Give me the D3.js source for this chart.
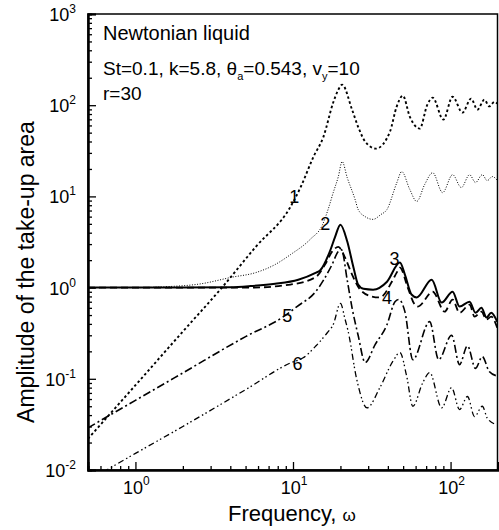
<!DOCTYPE html>
<html>
<head>
<meta charset="utf-8">
<script src="https://cdn.jsdelivr.net/npm/d3@7"></script>
<style>
  body { margin: 0; background: white; }
  text { font-family: "Liberation Sans", Arial, sans-serif; fill: black; }
</style>
</head>
<body>
<div id="chart"></div>
<script>
const MARGIN = { TOP: 14, BOTTOM: 60, LEFT: 88, RIGHT: 1 };
const W = 499, H = 530;

// curve 1 (dotted)
const omega1 = [0.5, 1, 2, 3.54, 5.8, 9.64, 11.15, 13.5, 15.6, 18.0, 19.4, 20.5, 23.7, 25.9, 28.7, 33.6, 41.2, 45.5, 49.8, 55.1, 63.7, 71, 77, 90, 103, 119, 135, 148, 164, 176, 190, 198];
const amp1 = [0.022, 0.085, 0.33, 1.0, 2.8, 7.7, 12.5, 27.3, 45, 107, 148, 168, 89.5, 58, 40, 33.4, 51, 96.6, 127, 75, 55.4, 100, 121, 69.5, 124, 83, 118, 89.5, 115, 97, 109, 104];
// curve 2 (fine dots)
const omega2 = [0.5, 1, 1.5, 2.6, 4.1, 5.8, 7.7, 9.64, 12.9, 15.4, 16.7, 18.0, 19.4, 20.5, 22.1, 24.8, 25.9, 28.7, 32.2, 36, 39.5, 45.5, 49, 55, 61, 68.5, 77, 89, 103, 117, 132, 144, 159, 171, 184, 198];
const amp2 = [1, 1, 1.02, 1.1, 1.3, 1.46, 1.79, 2.3, 3.4, 4.9, 7.2, 11, 16.5, 24.1, 16, 9.2, 7.2, 6.0, 5.6, 6.3, 7.2, 14, 18.7, 12, 8.8, 13.5, 18.2, 11, 17.3, 12.5, 17.3, 14.2, 17.3, 14.9, 16.5, 15];
// curve 3 (solid)
const omega3 = [0.5, 2, 4, 5.4, 7.7, 10.8, 13.9, 14.9, 17.3, 18.5, 20, 22.1, 24.2, 25.9, 28, 32.2, 39.5, 47.7, 51.3, 56.5, 61, 75.9, 87.8, 103, 114, 132, 144, 157, 169, 181, 198];
const amp3 = [1, 1, 1.01, 1.04, 1.1, 1.22, 1.45, 1.55, 2.6, 3.6, 4.9, 3.2, 1.66, 1.08, 0.97, 0.95, 1.16, 1.88, 1.39, 0.84, 0.78, 1.22, 0.685, 0.9, 0.62, 0.70, 0.53, 0.60, 0.47, 0.53, 0.42];
// curve 4 (dashed)
const omega4 = [0.5, 2, 5.4, 9.64, 13.9, 16, 17.7, 19.4, 21.4, 23.7, 26.7, 31.6, 35.6, 42.4, 45.5, 47.7, 53.5, 59.3, 62, 77, 91.7, 103, 114, 132, 142, 157, 169, 181, 198];
const amp4 = [1, 1, 1.0, 1.08, 1.3, 1.8, 2.48, 2.8, 2.13, 1.39, 0.95, 0.80, 0.78, 1.16, 1.46, 1.66, 1.0, 0.65, 0.62, 0.90, 0.545, 0.74, 0.53, 0.65, 0.48, 0.545, 0.446, 0.48, 0.36];
// curve 5 (dash-dot)
const omega5 = [0.5, 1, 2, 5, 8.7, 10.6, 13.9, 17.7, 19.4, 20.3, 22.1, 23.7, 25.9, 28.7, 33.2, 39.5, 44.4, 47, 51.3, 57.6, 73.7, 84, 101.5, 114, 128, 144, 159, 176, 195];
const amp5 = [0.029, 0.058, 0.116, 0.29, 0.48, 0.62, 0.90, 1.79, 2.5, 2.6, 1.2, 0.6, 0.3, 0.151, 0.237, 0.393, 0.70, 0.74, 0.545, 0.162, 0.424, 0.162, 0.30, 0.143, 0.23, 0.13, 0.175, 0.12, 0.108];
// curve 6 (dash-dot-dot)
const omega6 = [0.5, 1, 2, 5, 9.77, 11.6, 14, 16.5, 18, 20, 21.4, 22.4, 25.4, 29.5, 35.6, 43, 47.7, 52.7, 57.6, 66.5, 73.7, 87.8, 101.5, 114, 128, 142, 159, 171, 195];
const amp6 = [0.0076, 0.0152, 0.030, 0.076, 0.151, 0.17, 0.23, 0.32, 0.393, 0.67, 0.45, 0.33, 0.098, 0.048, 0.08, 0.155, 0.194, 0.106, 0.05, 0.09, 0.117, 0.048, 0.08, 0.046, 0.064, 0.0385, 0.05, 0.037, 0.0315];

const xMajor = [1, 10, 100];
const xMinor = [0.5, 0.6, 0.7, 0.8, 0.9, 2, 3, 4, 5, 6, 7, 8, 9, 20, 30, 40, 50, 60, 70, 80, 90, 200];
const yMajor = [0.01, 0.1, 1, 10, 100, 1000];
const yExp = ["-2", "-1", "0", "1", "2", "3"];
const xExp = ["0", "1", "2"];
const yMinor = [];
yMajor.slice(0, 5).forEach(d => { for (let k = 2; k <= 9; k++) yMinor.push(d * k); });

// curve labels: [text, omega, amplitude]
const curveLabels = [["1", 10.2, 8.5], ["2", 16, 4.3], ["3", 44, 1.75], ["4", 39.5, 0.66], ["5", 9.2, 0.42], ["6", 10.7, 0.126]];

const styles = [
  { w: 1.9, dash: "2.5,2.5" },
  { w: 1, dash: "1,1.6" },
  { w: 2, dash: null },
  { w: 1.8, dash: "7,4" },
  { w: 1.6, dash: "8,3,2,3" },
  { w: 1.3, dash: "6,3,1.5,2.5,1.5,3" }
];

const series = [
  [omega1, amp1], [omega2, amp2], [omega3, amp3],
  [omega4, amp4], [omega5, amp5], [omega6, amp6]
];

const svg = d3.select("#chart").append("svg")
  .attr("width", W).attr("height", H)
  .style("background", "white");

const x = d3.scaleLog().domain([0.5, 200]).range([MARGIN.LEFT, W - MARGIN.RIGHT]);
const y = d3.scaleLog().domain([0.01, 1000]).range([H - MARGIN.BOTTOM, MARGIN.TOP]);

svg.append("clipPath").attr("id", "plot-clip")
  .append("rect")
  .attr("x", MARGIN.LEFT).attr("y", MARGIN.TOP)
  .attr("width", W - MARGIN.LEFT - MARGIN.RIGHT)
  .attr("height", H - MARGIN.TOP - MARGIN.BOTTOM);

const line = d3.line()
  .x(d => x(d[0]))
  .y(d => y(d[1]))
  .curve(d3.curveMonotoneX);

const lines = svg.append("g").attr("clip-path", "url(#plot-clip)");
series.forEach((s, i) => {
  const pts = s[0].map((w, j) => [w, s[1][j]]);
  lines.append("path")
    .attr("d", line(pts))
    .attr("fill", "none")
    .attr("stroke", "black")
    .attr("stroke-width", styles[i].w)
    .attr("stroke-dasharray", styles[i].dash);
});

// frame
svg.append("rect")
  .attr("x", MARGIN.LEFT).attr("y", MARGIN.TOP)
  .attr("width", W - MARGIN.LEFT - MARGIN.RIGHT - 0.5)
  .attr("height", H - MARGIN.TOP - MARGIN.BOTTOM)
  .attr("fill", "none").attr("stroke", "black").attr("stroke-width", 1.5);

// axes with inward ticks
const xAxisG = svg.append("g").attr("transform", `translate(0, ${H - MARGIN.BOTTOM})`);
xAxisG.call(d3.axisBottom(x).tickValues(xMajor).tickSize(-8).tickFormat(""));
xAxisG.append("g").call(d3.axisBottom(x).tickValues(xMinor).tickSize(-4).tickFormat(""));

const yAxisG = svg.append("g").attr("transform", `translate(${MARGIN.LEFT}, 0)`);
yAxisG.call(d3.axisLeft(y).tickValues(yMajor).tickSize(-8).tickFormat(""));
yAxisG.append("g").call(d3.axisLeft(y).tickValues(yMinor).tickSize(-4).tickFormat(""));

svg.selectAll(".domain").attr("stroke-width", 2);
svg.selectAll(".tick line").attr("stroke-width", 1.3);

// tick labels
yMajor.forEach((v, i) => {
  const t = svg.append("text")
    .attr("x", 76).attr("y", y(v) + 7)
    .attr("text-anchor", "end")
    .style("font-size", "18px");
  t.append("tspan").text("10");
  t.append("tspan").attr("dy", -8).style("font-size", "12px").text(yExp[i]);
});
xMajor.forEach((v, i) => {
  const t = svg.append("text")
    .attr("x", x(v) + 1).attr("y", 494)
    .attr("text-anchor", "middle")
    .style("font-size", "18px");
  t.append("tspan").text("10");
  t.append("tspan").attr("dy", -9).style("font-size", "12px").text(xExp[i]);
});

// axis titles
svg.append("text")
  .attr("transform", `translate(34, 272) rotate(-90)`)
  .attr("text-anchor", "middle")
  .style("font-size", "23px")
  .text("Amplitude of the take-up area");

const xt = svg.append("text")
  .attr("x", 228).attr("y", 521)
  .style("font-size", "22px");
xt.append("tspan").text("Frequency, ");
xt.append("tspan").style("font-size", "17px").text("ω");

// annotations
svg.append("text").attr("x", 103).attr("y", 40).style("font-size", "20px").text("Newtonian liquid");
const p = svg.append("text").attr("x", 103).attr("y", 75).style("font-size", "19px");
p.append("tspan").text("St=0.1, k=5.8, θ");
p.append("tspan").attr("dy", 5).style("font-size", "11px").text("a");
p.append("tspan").attr("dy", -5).text("=0.543, v");
p.append("tspan").attr("dy", 5).style("font-size", "11px").text("y");
p.append("tspan").attr("dy", -5).text("=10");
svg.append("text").attr("x", 103).attr("y", 100).style("font-size", "19px").text("r=30");

curveLabels.forEach(c => {
  svg.append("text")
    .attr("x", x(c[1])).attr("y", y(c[2]))
    .attr("text-anchor", "middle")
    .style("font-size", "18px")
    .text(c[0]);
});
</script>
</body>
</html>
